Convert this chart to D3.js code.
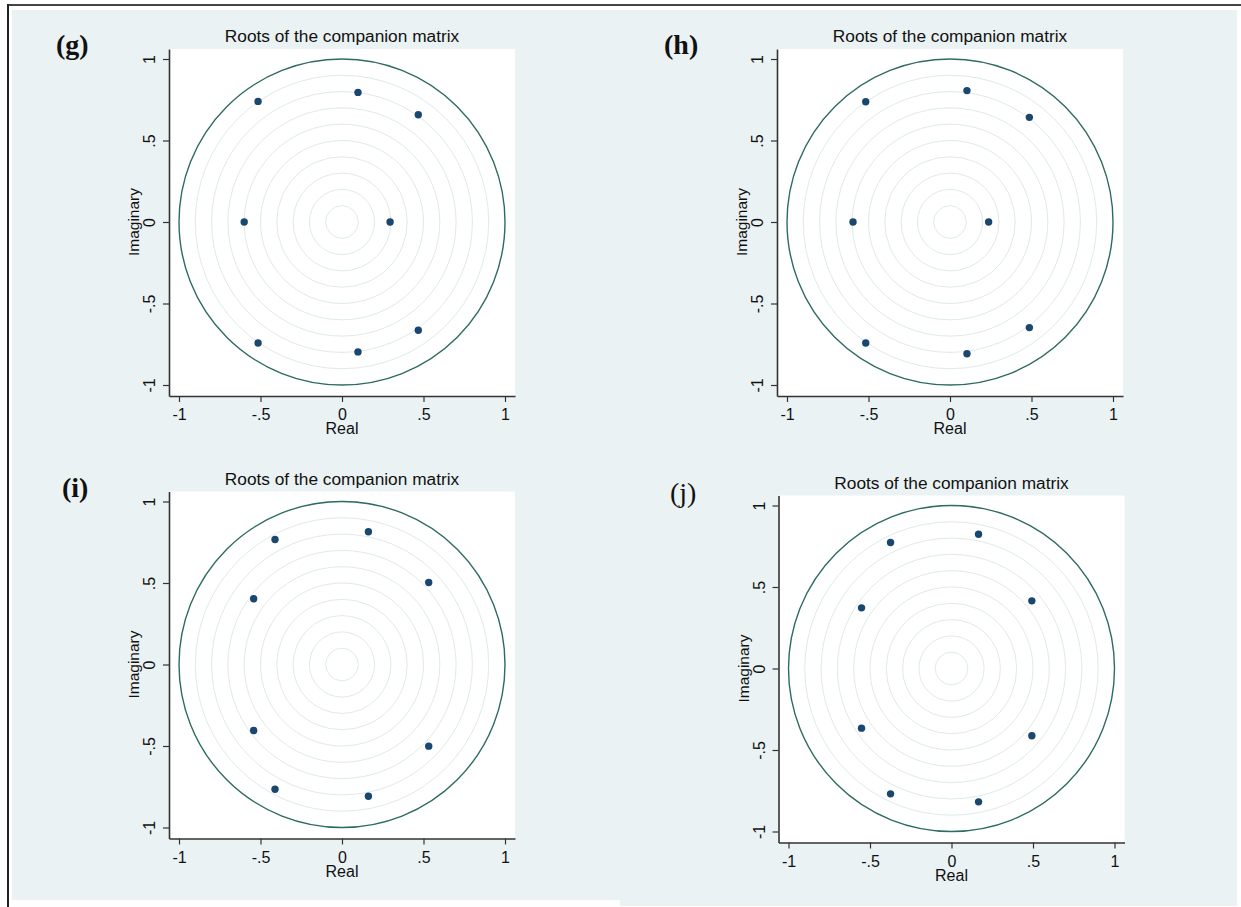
<!DOCTYPE html>
<html>
<head>
<meta charset="utf-8">
<script src="https://cdn.jsdelivr.net/npm/d3@7"></script>
<style>
  body { margin: 0; background: #fff; }
  svg text { font-family: "Liberation Sans", Arial, sans-serif; fill: #111; }
</style>
</head>
<body>
<div id="chart"></div>
<script>
// roots of the companion matrix for each panel, [real, imaginary]
const rootsG = [[-0.515, 0.740], [-0.515, -0.742], [0.098, 0.795], [0.098, -0.797],
                [0.468, 0.658], [0.468, -0.664], [-0.600, 0], [0.295, 0]];
const rootsH = [[-0.517, 0.738], [-0.517, -0.742], [0.104, 0.806], [0.104, -0.808],
                [0.487, 0.642], [0.487, -0.648], [-0.595, 0], [0.237, 0]];
const rootsI = [[-0.411, 0.767], [-0.411, -0.765], [0.162, 0.814], [0.162, -0.808],
                [0.532, 0.503], [0.532, -0.501], [-0.542, 0.403], [-0.542, -0.405]];
const rootsJ = [[-0.374, 0.773], [-0.374, -0.769], [0.166, 0.824], [0.166, -0.818],
                [0.493, 0.415], [0.493, -0.413], [-0.552, 0.372], [-0.552, -0.366]];

const panelLabels = ["(g)", "(h)", "(i)", "(j)"];
const chartTitle = "Roots of the companion matrix";
const tickValues = [-1, -0.5, 0, 0.5, 1];
const tickLabels = ["-1", "-.5", "0", ".5", "1"];
const ringRadii = [0.1, 0.2, 0.3, 0.4, 0.5, 0.6, 0.7, 0.8, 0.9];

// layout of the four panels (top-left corner of each plot region)
const panels = [
    { roots: rootsG, label: panelLabels[0], left: 169, top: 49, labelX: 56, labelY: 54, bold: true },
    { roots: rootsH, label: panelLabels[1], left: 777, top: 49, labelX: 664, labelY: 54, bold: true },
    { roots: rootsI, label: panelLabels[2], left: 169, top: 491.5, labelX: 62, labelY: 497, bold: true },
    { roots: rootsJ, label: panelLabels[3], left: 778.5, top: 495.5, labelX: 670, labelY: 502, bold: false }
];

const plotW = 346, plotH = 347;
const navy = "#1a476f", teal = "#2e6b63", ring = "#dfeaea", bg = "#eaf2f3";

const svg = d3.select("#chart").append("svg")
    .attr("width", 1241)
    .attr("height", 907);

// outer frame and background
svg.append("rect").attr("x", 12).attr("y", 10).attr("width", 1225).attr("height", 890).attr("fill", bg);
svg.append("rect").attr("x", 620).attr("y", 455).attr("width", 617).attr("height", 451).attr("fill", bg);
svg.append("line").attr("x1", 7).attr("x2", 1241).attr("y1", 5).attr("y2", 5)
    .attr("stroke", "#444").attr("stroke-width", 2);
svg.append("line").attr("x1", 8).attr("x2", 8).attr("y1", 4).attr("y2", 907)
    .attr("stroke", "#222").attr("stroke-width", 2);

// scales (10px padding round the unit square, Stata style)
const pad = 10 / 163;
const x = d3.scaleLinear().domain([-1 - pad, 1 + pad]).range([0, plotW]);
const y = d3.scaleLinear().domain([-1 - 11 / 163, 1 + pad]).range([plotH, 0]);

panels.forEach(p => {
    const g = svg.append("g")
        .attr("transform", "translate(" + p.left + "," + p.top + ")");

    g.append("rect")
        .attr("width", plotW)
        .attr("height", plotH)
        .attr("fill", "#fff");

    // light reference rings
    g.selectAll("circle.ring")
        .data(ringRadii)
        .enter().append("circle")
        .attr("class", "ring")
        .attr("cx", x(0))
        .attr("cy", y(0))
        .attr("r", d => x(d) - x(0))
        .attr("fill", "none")
        .attr("stroke", ring)
        .attr("stroke-width", 1);

    // unit circle
    g.append("circle")
        .attr("cx", x(0))
        .attr("cy", y(0))
        .attr("r", x(1) - x(0))
        .attr("fill", "none")
        .attr("stroke", teal)
        .attr("stroke-width", 1.4);

    // roots
    g.selectAll("circle.root")
        .data(p.roots)
        .enter().append("circle")
        .attr("class", "root")
        .attr("cx", d => x(d[0]))
        .attr("cy", d => y(d[1]))
        .attr("r", 3.7)
        .attr("fill", navy);

    // y axis
    const yAxis = g.append("g")
        .call(d3.axisLeft(y)
            .tickValues(tickValues)
            .tickFormat((d, i) => tickLabels[i])
            .tickSize(6)
            .tickSizeOuter(0));
    yAxis.selectAll("text")
        .attr("x", null).attr("dy", null)
        .attr("transform", "translate(-14,0) rotate(-90)")
        .attr("text-anchor", "middle")
        .style("font-size", "16px");

    // x axis
    const xAxis = g.append("g")
        .attr("transform", "translate(0," + plotH + ")")
        .call(d3.axisBottom(x)
            .tickValues(tickValues)
            .tickFormat((d, i) => tickLabels[i])
            .tickSize(6)
            .tickSizeOuter(0));
    xAxis.selectAll("text")
        .attr("y", 24).attr("dy", null)
        .style("font-size", "16px");

    g.selectAll(".domain").attr("stroke", "#333").attr("stroke-width", 1.6);
    g.selectAll(".tick line").attr("stroke", "#333").attr("stroke-width", 1.2);
    g.selectAll(".tick text").attr("fill", "#111").attr("font-family", null);

    // axis titles
    g.append("text")
        .attr("x", plotW / 2)
        .attr("y", plotH + 38)
        .attr("text-anchor", "middle")
        .style("font-size", "16px")
        .text("Real");

    g.append("text")
        .attr("transform", "translate(-30," + y(0) + ") rotate(-90)")
        .attr("text-anchor", "middle")
        .style("font-size", "15.5px")
        .text("Imaginary");

    // chart title
    g.append("text")
        .attr("x", plotW / 2)
        .attr("y", -7)
        .attr("text-anchor", "middle")
        .style("font-size", "17.3px")
        .text(chartTitle);

    // panel label
    svg.append("text")
        .attr("x", p.labelX)
        .attr("y", p.labelY)
        .style("font-family", "'Liberation Serif', 'Times New Roman', serif")
        .style("font-weight", p.bold ? "bold" : "normal")
        .style("font-size", "28px")
        .text(p.label);
});
</script>
</body>
</html>
